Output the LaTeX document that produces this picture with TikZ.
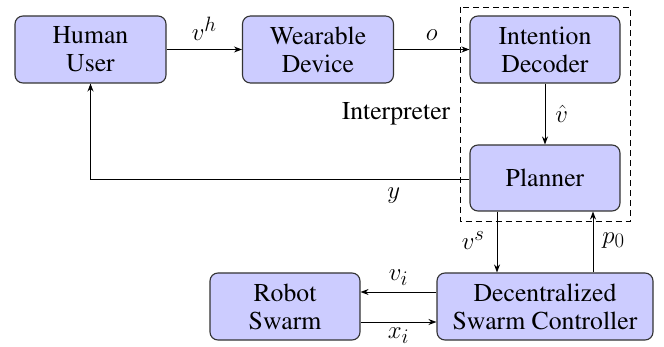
\documentclass[tikz,border=0pt]{standalone}
\usepackage[T1]{fontenc}
\usepackage{times}
\usetikzlibrary{arrows.meta}
\tikzset{
  block/.style={draw=black!80, line width=1.1pt, fill=blue!20, rounded corners=8pt,
    align=center, inner sep=0pt, minimum height=67pt},
  flow/.style={line width=0.9pt, -{Stealth[length=8pt,width=6pt]}},
  lbl/.style={inner sep=0pt},
  sig/.style={inner sep=0pt, font=\fontsize{29.5}{34}\selectfont},
}
\begin{document}
\begin{tikzpicture}[x=1pt,y=-1pt,font=\rmfamily\fontsize{25.7}{28}\selectfont]
\useasboundingbox (0,0) rectangle (664,347);
% blocks
\node[block, minimum width=151pt] (hu) at (90.5,49.5) {Human\\User};
\node[block, minimum width=151pt] (wd) at (318,49.5) {Wearable\\Device};
\node[block, minimum width=150pt] (id) at (545,49.5) {Intention\\Decoder};
\node[block, minimum width=150pt, minimum height=66pt] (pl) at (545,178) {Planner};
\node[block, minimum width=150pt] (rs) at (285,306.5) {Robot\\Swarm};
\node[block, minimum width=216pt] (sc) at (545,306.5) {Decentralized\\Swarm Controller};
% interpreter group
\coordinate (gtl) at (460,7);
\coordinate (gbr) at (630,221.5);
\draw[line width=0.9pt, dash pattern=on 6pt off 4pt] (gtl) rectangle (gbr);
\node[lbl, anchor=base] (ilbl) at (396,120) {Interpreter};
% connectors
\draw[flow] (hu.east) -- node[sig, above=9pt] {$v^h$} (wd.west);
\draw[flow] (wd.east) -- node[sig, above=9pt] {$o$} (id.west);
\draw[flow] (id.south) -- node[sig, right=10pt] {$\hat v$} (pl.north);
\coordinate (yc) at (90.5,179);
\draw[flow] (pl.west |- yc) -- node[sig, below=8pt, pos=0.2] {$y$} (yc) -- (hu.south);
\draw[flow] (pl.south -| 497,0) -- node[sig, left=12pt, pos=0.47] {$v^s$} (sc.north -| 497,0);
\draw[flow] (sc.north -| 593,0) -- node[sig, right=9pt, pos=0.53] {$p_0$} (pl.south -| 593,0);
\draw[flow] (sc.west |- 0,292) -- node[sig, above=6pt] {$v_i$} (rs.east |- 0,292);
\draw[flow] (rs.east |- 0,322) -- node[sig, below=5pt] {$x_i$} (sc.west |- 0,322);
\end{tikzpicture}
\end{document}
